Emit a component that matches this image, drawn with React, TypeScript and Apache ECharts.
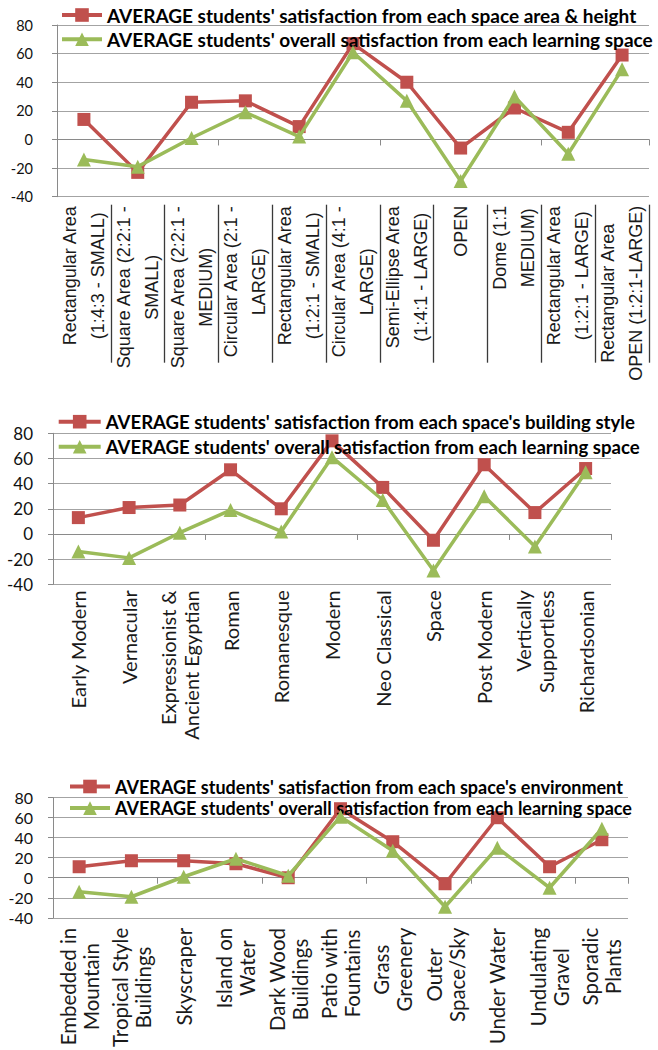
import React, { useEffect, useRef } from "react";
import * as echarts from "echarts";

// ---- data ---------------------------------------------------------------

const areaCategories = [
  "Rectangular Area\n(1:4:3 - SMALL)",
  "Square Area (2:2:1 -\nSMALL)",
  "Square Area (2:2:1 -\nMEDIUM)",
  "Circular Area (2:1 -\nLARGE)",
  "Rectangular Area\n(1:2:1 - SMALL)",
  "Circular Area (4:1 -\nLARGE)",
  "Semi-Ellipse Area\n(1:4:1 - LARGE)",
  "OPEN",
  "Dome (1:1\nMEDIUM)",
  "Rectangular Area\n(1:2:1 - LARGE)",
  "Rectangular Area\nOPEN (1:2:1-LARGE)",
];

const styleCategories = [
  "Early Modern",
  "Vernacular",
  "Expressionist &\nAncient Egyptian",
  "Roman",
  "Romanesque",
  "Modern",
  "Neo Classical",
  "Space",
  "Post Modern",
  "Vertically\nSupportless",
  "Richardsonian",
];

const environmentCategories = [
  "Embedded in\nMountain",
  "Tropical Style\nBuildings",
  "Skyscraper",
  "Island on\nWater",
  "Dark Wood\nBuildings",
  "Patio with\nFountains",
  "Grass\nGreenery",
  "Outer\nSpace/Sky",
  "Under Water",
  "Undulating\nGravel",
  "Sporadic\nPlants",
];

const areaSatisfaction = [14, -23, 26, 27, 9, 67, 40, -6, 22, 5, 59];
const styleSatisfaction = [13, 21, 23, 51, 20, 74, 37, -5, 55, 17, 52];
const environmentSatisfaction = [11, 17, 17, 14, 0, 69, 36, -6, 60, 11, 38];
const overallSatisfaction = [-14, -19, 1, 19, 2, 61, 27, -29, 30, -10, 49];

const areaSeriesName = "AVERAGE students' satisfaction from each space area & height";
const styleSeriesName = "AVERAGE students' satisfaction from each space's building style";
const environmentSeriesName = "AVERAGE students' satisfaction from each space's environment";
const overallSeriesName = "AVERAGE students' overall satisfaction from each learning space";

const yMin = -40;
const yMax = 80;
const yStep = 20;

// ---- styling ------------------------------------------------------------

const RED = "#c0504d";
const GREEN = "#9bbb59";
const GRID_LINE = "#a3a3a3";
const AXIS_LINE = "#8a8a8a";
const HUMANIST = "Lato, 'Open Sans', sans-serif";
const ARIAL = "'Liberation Sans', Arial, sans-serif";

type Panel = {
  categories: string[];
  values: number[];
  name: string;
  grid: { left: number; right: number; top: number; height: number };
  legend: { left: number; top: number; itemWidth: number; fontSize: number; lineHeight: number; itemGap: number };
  yLabel: { fontSize: number; margin: number; fontFamily: string };
  xLabel: {
    fontFamily: string;
    fontSize: number;
    lineHeight: number;
    margin: number;
    centered: boolean;
    offset: number;
    separators: boolean;
  };
};

const panels: Panel[] = [
  {
    categories: areaCategories,
    values: areaSatisfaction,
    name: areaSeriesName,
    grid: { left: 57, right: 9, top: 25, height: 171.7 },
    legend: { left: 60, top: 5, itemWidth: 40, fontSize: 19, lineHeight: 20, itemGap: 4.3 },
    yLabel: { fontSize: 14.5, margin: 24, fontFamily: HUMANIST },
    xLabel: { fontFamily: ARIAL, fontSize: 18, lineHeight: 28, margin: 1, centered: true, offset: 8, separators: true },
  },
  {
    categories: styleCategories,
    values: styleSatisfaction,
    name: styleSeriesName,
    grid: { left: 53, right: 47, top: 433.3, height: 151 },
    legend: { left: 56.7, top: 411.7, itemWidth: 42, fontSize: 18.6, lineHeight: 20, itemGap: 5 },
    yLabel: { fontSize: 17, margin: 20, fontFamily: HUMANIST },
    xLabel: { fontFamily: HUMANIST, fontSize: 20, lineHeight: 23, margin: 6, centered: false, offset: 0, separators: false },
  },
  {
    categories: environmentCategories,
    values: environmentSatisfaction,
    name: environmentSeriesName,
    grid: { left: 53, right: 30, top: 797.7, height: 129 },
    legend: { left: 68, top: 777, itemWidth: 40, fontSize: 18, lineHeight: 19, itemGap: 2.6 },
    yLabel: { fontSize: 16, margin: 20, fontFamily: HUMANIST },
    xLabel: { fontFamily: HUMANIST, fontSize: 20.5, lineHeight: 23, margin: 10, centered: true, offset: 0, separators: false },
  },
];

function buildOption() {
  const grid: any[] = [];
  const xAxis: any[] = [];
  const yAxis: any[] = [];
  const legend: any[] = [];
  const series: any[] = [];

  panels.forEach((p, i) => {
    grid.push({ ...p.grid, containLabel: false });

    const labelBase = {
      fontFamily: p.xLabel.fontFamily,
      fontSize: p.xLabel.fontSize,
      lineHeight: p.xLabel.lineHeight,
      color: "#1a1a1a",
    };

    // category labels along the bottom of the plot
    xAxis.push({
      type: "category",
      gridIndex: i,
      data: p.categories,
      position: "bottom",
      offset: p.xLabel.offset,
      axisLine: { show: false, onZero: false },
      axisTick: p.xLabel.separators
        ? {
            show: true,
            length: 158,
            interval: (idx: number) => idx > 0,
            lineStyle: { color: "#3a3a3a", width: 1.3 },
          }
        : { show: false },
      axisLabel: {
        interval: 0,
        rotate: 90,
        margin: p.xLabel.margin,
        ...labelBase,
        formatter: p.xLabel.centered
          ? (v: string) =>
              v
                .split("\n")
                .map((line) => `{c|${line}}`)
                .join("\n")
          : undefined,
        rich: p.xLabel.centered ? { c: { ...labelBase, align: "center" } } : undefined,
      },
      splitLine: { show: false },
    });

    // category axis line crossing at zero, with its tick marks
    xAxis.push({
      type: "category",
      gridIndex: i,
      data: p.categories,
      position: "bottom",
      axisLine: { show: true, onZero: true, lineStyle: { color: AXIS_LINE, width: 1 } },
      axisTick: { show: true, length: 6, lineStyle: { color: AXIS_LINE } },
      axisLabel: { show: false },
      splitLine: { show: false },
    });

    yAxis.push({
      type: "value",
      gridIndex: i,
      min: yMin,
      max: yMax,
      interval: yStep,
      axisLine: { show: true, lineStyle: { color: AXIS_LINE } },
      axisTick: { show: true, length: 5, lineStyle: { color: AXIS_LINE } },
      axisLabel: {
        fontFamily: p.yLabel.fontFamily,
        fontSize: p.yLabel.fontSize,
        color: "#111",
        margin: p.yLabel.margin,
      },
      splitLine: { show: true, lineStyle: { color: GRID_LINE, width: 1 } },
    });

    legend.push({
      data: [p.name, overallSeriesName],
      orient: "vertical",
      left: p.legend.left,
      top: p.legend.top,
      padding: 0,
      itemWidth: p.legend.itemWidth,
      itemHeight: 17,
      itemGap: p.legend.itemGap,
      selectedMode: false,
      lineStyle: { width: 4 },
      textStyle: {
        fontFamily: HUMANIST,
        fontWeight: "bold",
        fontSize: p.legend.fontSize,
        lineHeight: p.legend.lineHeight,
        color: "#000",
      },
    });

    series.push({
      type: "line",
      name: p.name,
      data: p.values,
      xAxisIndex: i * 2,
      yAxisIndex: i,
      symbol: "rect",
      symbolSize: 13,
      lineStyle: { color: RED, width: 3.5 },
      itemStyle: { color: RED },
      z: 3,
    });
    series.push({
      type: "line",
      name: overallSeriesName,
      data: overallSatisfaction,
      xAxisIndex: i * 2,
      yAxisIndex: i,
      symbol: "triangle",
      symbolSize: 14,
      lineStyle: { color: GREEN, width: 3.5 },
      itemStyle: { color: GREEN },
      z: 4,
    });
  });

  return {
    animation: false,
    backgroundColor: "#ffffff",
    grid,
    xAxis,
    yAxis,
    legend,
    series,
  };
}

export default function App() {
  const ref = useRef<HTMLDivElement>(null);

  useEffect(() => {
    if (!ref.current) return;
    const chart = echarts.init(ref.current, undefined, { renderer: "svg" });
    chart.setOption(buildOption());
    return () => chart.dispose();
  }, []);

  return (
    <div
      ref={ref}
      style={{ position: "absolute", left: 0, top: 0, width: 658, height: 1050, background: "#fff" }}
    />
  );
}
